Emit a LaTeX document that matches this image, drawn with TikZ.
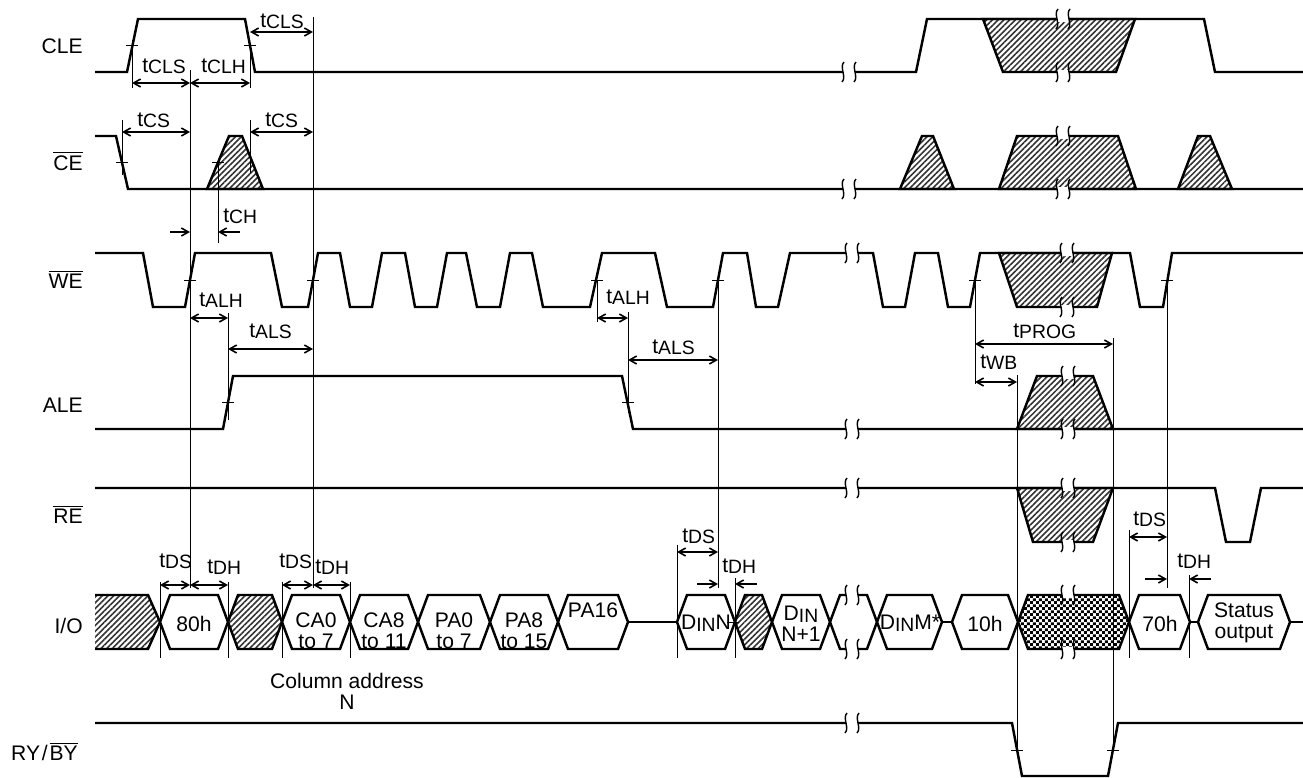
\documentclass[tikz,border=0pt]{standalone}
\usepackage{fontspec}
\setmainfont{Liberation Sans}
\usetikzlibrary{arrows.meta,patterns,patterns.meta}

\newcommand\tm[1]{t\raisebox{-0.9pt}{\fontsize{11}{11}\selectfont #1}}
\newcommand\din{D\raisebox{-0.9pt}{\fontsize{11}{11}\selectfont IN}}
\newcommand\ovl[1]{$\overline{\mbox{#1}}$}
\newcommand\sigbreak[2]{%
  \fill[white] ({#1-6},{#2-2.5}) rectangle ({#1+6},{#2+2.5});
  \draw[line width=0.8pt] ({#1-5},{#2-10}) .. controls ({#1-10},{#2-5}) and ({#1-2},{#2+5}) .. ({#1-7},{#2+10});
  \draw[line width=0.8pt] ({#1+7},{#2-10}) .. controls ({#1+2},{#2-5}) and ({#1+10},{#2+5}) .. ({#1+5},{#2+10});
}
\newcommand\hex[3][]{\draw[sig,#1] (#2,622) -- (#2+10,595) -- (#3-10,595) -- (#3,622) -- (#3-10,649) -- (#2+10,649) -- cycle;}

\pgfdeclarepatternformonly{finechecker}{\pgfqpoint{0pt}{0pt}}{\pgfqpoint{3.6pt}{3.6pt}}{\pgfqpoint{3.6pt}{3.6pt}}{%
  \pgfpathrectangle{\pgfpointorigin}{\pgfqpoint{1.8pt}{1.8pt}}%
  \pgfpathrectangle{\pgfqpoint{1.8pt}{1.8pt}}{\pgfqpoint{1.8pt}{1.8pt}}%
  \pgfusepath{fill}}

\tikzset{
  sig/.style={line width=1.4pt},
  ref/.style={line width=0.55pt},
  dim/.style={line width=0.9pt,{Straight Barb[length=4pt,width=4.5pt]}-{Straight Barb[length=4pt,width=4.5pt]}},
  half/.style={line width=0.9pt,-{Straight Barb[length=4pt,width=4.5pt]}},
  hatch/.style={pattern={Lines[angle=45,distance=2.3pt,line width=0.9pt]},pattern color=black!80},
  checker/.style={pattern=finechecker},
  lbl/.style={anchor=base east,inner sep=0pt,font=\fontsize{12}{14}\selectfont},
  tl/.style={anchor=base west,inner sep=0pt,font=\fontsize{12}{14}\selectfont},
  bus/.style={align=center,inner sep=0pt,font=\fontsize{12}{12}\selectfont}
}

\begin{document}
\begin{tikzpicture}[x=0.02cm,y=-0.02cm]
\useasboundingbox (0,0) rectangle (1303,778);

% signal names
\node[lbl] (cle) at (83,53) {CLE};
\node[lbl] (ce) at (83,170) {\ovl{CE}};
\node[lbl] (we) at (83,288) {\ovl{WE}};
\node[lbl] (ale) at (83,412) {ALE};
\node[lbl] (re) at (83,523) {\ovl{RE}};
\node[lbl] (io) at (83,633) {I/O};
\node[lbl] (ryby) at (78,760) {RY\kern1pt/\kern1pt\ovl{BY}};

% don't care areas
\draw[sig,hatch] (983,19) -- (1135,19) -- (1116,72) -- (1003,72) -- cycle;
\draw[sig,hatch] (207,189) -- (229,136) -- (242,136) -- (263,189) -- cycle;
\draw[sig,hatch] (900,189) -- (922,136) -- (933,136) -- (954,189) -- cycle;
\draw[sig,hatch] (999,189) -- (1017,136) -- (1118,136) -- (1136,189) -- cycle;
\draw[sig,hatch] (1178,189) -- (1198,136) -- (1210,136) -- (1232,189) -- cycle;
\draw[sig,hatch] (999,253) -- (1112,253) -- (1097,307) -- (1017,307) -- cycle;
\draw[sig,hatch] (1017,429) -- (1037,376) -- (1093,376) -- (1113,429) -- cycle;
\draw[sig,hatch] (1017,488) -- (1113,488) -- (1093,542) -- (1033,542) -- cycle;

% waveforms
\draw[sig] (95,72) -- (127,72) -- (138,19) -- (245,19) -- (255,72) -- (916,72) -- (927,19) -- (1204,19) -- (1215,72) -- (1303,72);
\draw[sig] (95,136) -- (116,136) -- (128,189) -- (1303,189);
\draw[sig] (95,253) -- (143,253) -- (153,307) -- (185,307) -- (195,253) -- (271,253) -- (282,307) -- (308,307) -- (318,253)
  -- (340,253) -- (350,307) -- (372,307) -- (382,253) -- (405,253) -- (415,307) -- (437,307) -- (447,253) -- (466,253)
  -- (477,307) -- (500,307) -- (510,253) -- (532,253) -- (543,307) -- (590,307) -- (602,253) -- (655,253) -- (667,307)
  -- (713,307) -- (723,253) -- (747,253) -- (756,307) -- (778,307) -- (790,253) -- (873,253) -- (883,307) -- (905,307)
  -- (915,253) -- (938,253) -- (948,307) -- (970,307) -- (980,253) -- (1130,253) -- (1140,307) -- (1163,307) -- (1172,253) -- (1303,253);
\draw[sig] (95,429) -- (223,429) -- (233,376) -- (622,376) -- (633,429) -- (1303,429);
\draw[sig] (95,488) -- (1215,488) -- (1226,542) -- (1250,542) -- (1261,488) -- (1303,488);
\draw[sig] (95,723) -- (1012,723) -- (1022,776) -- (1108,776) -- (1118,723) -- (1303,723);

% I/O bus
\fill[hatch] (95,595) -- (148,595) -- (160,622) -- (148,649) -- (95,649) -- cycle;
\draw[sig] (95,595) -- (148,595) -- (160,622) -- (148,649) -- (95,649);
\hex{160}{228}
\hex[hatch]{228}{282}
\hex{282}{350}
\hex{350}{418}
\hex{418}{490}
\hex{490}{558}
\hex{558}{628}
\draw[sig] (628,622) -- (677,622);
\hex{677}{735}
\hex[hatch]{735}{772}
\hex{772}{830}
\hex{830}{877}
\hex{877}{942}
\draw[sig] (942,622) -- (952,622);
\hex{952}{1018}
\hex[checker]{1018}{1129}
\hex{1129}{1190}
\draw[sig] (1190,622) -- (1198,622);
\hex{1198}{1290}
\draw[sig] (1290,622) -- (1303,622);

\node[bus] (d80) at (194,624) {80h};
\node[bus] (ca0) at (316,631) {CA0\\to 7};
\node[bus] (ca8) at (384,631) {CA8\\to 11};
\node[bus] (pa0) at (454,631) {PA0\\to 7};
\node[bus] (pa8) at (524,631) {PA8\\to 15};
\node[bus] (pa16) at (593,610) {PA16};
\node[bus] (dinn) at (706,623) {\din N};
\node[bus] (dinn1) at (801,624) {\din\\N+1};
\node[bus] (dinm) at (910,623) {\din M*};
\node[bus] (d10) at (985,624) {10h};
\node[bus] (d70) at (1160,624) {70h};
\node[bus] (stat) at (1244,623) {Status\\output};
\node[bus] (coladr) at (347,691) {Column address\\N};

% breaks
\foreach \x/\y in {849/72, 849/189, 852/253, 852/429, 852/488, 852/595, 852/649, 852/723,
  1063/19, 1063/72, 1063/136, 1063/189, 1067/253, 1067/307, 1068/376, 1068/429,
  1068/488, 1068/542, 1068/595, 1068/649} \sigbreak{\x}{\y};

% reference lines and ticks
\foreach \x/\a/\b in {132/40/88, 250/43/88, 190/70/588, 313/17/588, 122/120/175, 250/120/173,
  218/162/243, 228/313/420, 597/280/322, 628/312/413, 718/280/588, 975/280/384, 1017/375/750,
  1113/338/750, 1167/280/588, 160/582/658, 228/582/658, 282/582/658, 350/582/658, 677/545/658,
  735/578/658, 1129/530/658, 1189/575/658}
  \draw[ref] (\x,\a) -- (\x,\b);
\foreach \x/\y in {132/45, 250/45, 122/162, 218/162, 190/280, 313/280, 597/280, 718/280, 975/280,
  1167/280, 228/402, 628/402, 1017/750, 1113/750, 733/622}
  \draw[ref] (\x-6,\y) -- (\x+6,\y);

% timing
\draw[dim] (250,32) -- (313,32);
\draw[dim] (132,83) -- (190,83);
\draw[dim] (190,83) -- (250,83);
\draw[dim] (122,132) -- (190,132);
\draw[dim] (250,132) -- (313,132);
\draw[half] (170,232) -- (190,232);
\draw[half] (240,232) -- (218,232);
\draw[dim] (190,318) -- (228,318);
\draw[dim] (228,349) -- (313,349);
\draw[dim] (597,318) -- (628,318);
\draw[dim] (628,360) -- (718,360);
\draw[dim] (975,344) -- (1113,344);
\draw[dim] (975,382) -- (1017,382);
\draw[dim] (160,585) -- (190,585);
\draw[dim] (190,585) -- (228,585);
\draw[dim] (282,585) -- (313,585);
\draw[dim] (313,585) -- (350,585);
\draw[dim] (677,552) -- (718,552);
\draw[half] (697,584) -- (718,584);
\draw[half] (757,584) -- (735,584);
\draw[dim] (1129,537) -- (1167,537);
\draw[half] (1145,579) -- (1167,579);
\draw[half] (1211,579) -- (1189,579);

\node[tl] (tcls2) at (260,27) {\tm{CLS}};
\node[tl] (tcls1) at (142,72) {\tm{CLS}};
\node[tl] (tclh) at (201,72) {\tm{CLH}};
\node[tl] (tcs1) at (137,126) {\tm{CS}};
\node[tl] (tcs2) at (265,126) {\tm{CS}};
\node[tl] (tch) at (223,222) {\tm{CH}};
\node[tl] (talh1) at (199,306) {\tm{ALH}};
\node[tl] (tals1) at (249,337) {\tm{ALS}};
\node[tl] (talh2) at (606,303) {\tm{ALH}};
\node[tl] (tals2) at (652,353) {\tm{ALS}};
\node[tl] (tprog) at (1013,337) {\tm{PROG}};
\node[tl] (twb) at (980,368) {\tm{WB}};
\node[tl] (tds1) at (159,567) {\tm{DS}};
\node[tl] (tdh1) at (207,573) {\tm{DH}};
\node[tl] (tds2) at (279,567) {\tm{DS}};
\node[tl] (tdh2) at (315,573) {\tm{DH}};
\node[tl] (tds3) at (682,542) {\tm{DS}};
\node[tl] (tdh3) at (722,572) {\tm{DH}};
\node[tl] (tds4) at (1133,525) {\tm{DS}};
\node[tl] (tdh4) at (1177,567) {\tm{DH}};
\end{tikzpicture}
\end{document}
